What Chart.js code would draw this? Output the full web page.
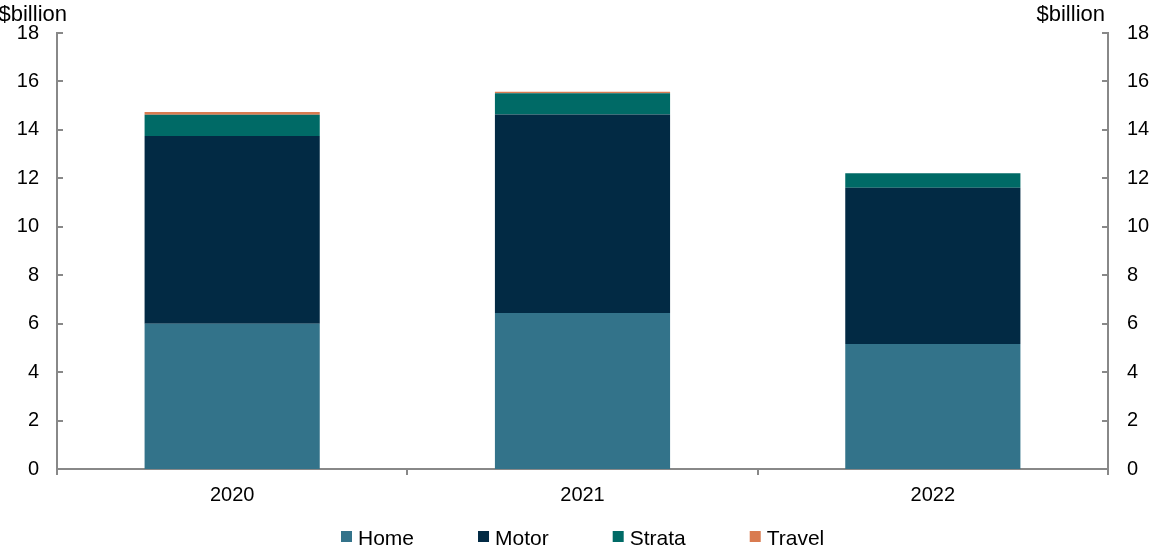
<!DOCTYPE html>
<html><head><meta charset="utf-8">
<script src="https://cdn.jsdelivr.net/npm/chart.js@4/dist/chart.umd.min.js"></script>
<style>html,body{margin:0;padding:0;background:#fff}#wrap{width:1156px;height:546px;position:relative}</style>
</head><body><div id="wrap"><canvas id="c" width="1156" height="546"></canvas></div>
<script>
const categories = ['2020', '2021', '2022'];
const home = [6.0, 6.44, 5.16];
const motor = [7.75, 8.2, 6.45];
const strata = [0.87, 0.87, 0.6];
const travel = [0.12, 0.06, 0.0];
const yTicks = [0, 2, 4, 6, 8, 10, 12, 14, 16, 18];
const unitLabel = '$billion';

const FONT = 'Liberation Sans, Arial, sans-serif';
const AXIS = '#888888';

const decor = {
  id: 'decor',
  afterDraw(chart) {
    const ctx = chart.ctx;
    ctx.save();
    ctx.strokeStyle = AXIS; ctx.lineWidth = 2;
    ['y', 'y2'].forEach(id => {
      const s = chart.scales[id];
      const isLeft = id === 'y';
      const x = isLeft ? s.right : s.left;
      yTicks.forEach(v => {
        const py = Math.round(s.getPixelForValue(v));
        ctx.beginPath();
        ctx.moveTo(x, py); ctx.lineTo(isLeft ? x + 6 : x - 6, py);
        ctx.stroke();
      });
    });
    ctx.fillStyle = '#000'; ctx.font = '22px ' + FONT; ctx.textBaseline = 'alphabetic';
    ctx.textAlign = 'right'; ctx.fillText(unitLabel, 67, 21);
    ctx.fillText(unitLabel, 1105, 21);

    // legend
    ctx.font = '21px ' + FONT;
    const box = 11, gapText = 6, gapItem = 64;
    const items = chart.data.datasets.map(d => ({ label: d.label, color: d.backgroundColor, w: ctx.measureText(d.label).width }));
    let total = 0;
    items.forEach((it, i) => { total += box + gapText + it.w + (i < items.length - 1 ? gapItem : 0); });
    const ca = chart.chartArea;
    let x = Math.round((ca.left + ca.right) / 2 - total / 2);
    ctx.textAlign = 'left';
    items.forEach(it => {
      ctx.fillStyle = it.color;
      ctx.fillRect(x, 531, box, box);
      ctx.fillStyle = '#000';
      ctx.fillText(it.label, x + box + gapText, 545);
      x += box + gapText + it.w + gapItem;
    });
    ctx.restore();
  }
};

new Chart(document.getElementById('c'), {
  type: 'bar',
  data: {
    labels: categories,
    datasets: [
      { label: 'Home', data: home, backgroundColor: '#33738A' },
      { label: 'Motor', data: motor, backgroundColor: '#022A44' },
      { label: 'Strata', data: strata, backgroundColor: '#006A66' },
      { label: 'Travel', data: travel, backgroundColor: '#D97B50' }
    ]
  },
  options: {
    responsive: false, animation: false,
    layout: { padding: { top: 33, left: 0, right: 0, bottom: 0 } },
    datasets: { bar: { categoryPercentage: 1, barPercentage: 0.5 } },
    plugins: {
      tooltip: { enabled: false },
      legend: { display: false }
    },
    scales: {
      x: {
        stacked: true,
        grid: { display: true, drawOnChartArea: false, drawTicks: true, tickLength: 6, color: AXIS, lineWidth: 2, offset: true },
        border: { display: true, color: AXIS, width: 2 },
        ticks: { font: { family: FONT, size: 20 }, color: '#000', padding: 8 },
        afterFit(s) { s.height = 77; }
      },
      y: {
        stacked: true, position: 'left', min: 0, max: 18,
        grid: { display: false, drawTicks: false },
        border: { display: true, color: AXIS, width: 2 },
        ticks: { stepSize: 2, font: { family: FONT, size: 20 }, color: '#000', padding: 18 },
        afterFit(s) { s.width = 57; }
      },
      y2: {
        position: 'right', min: 0, max: 18,
        grid: { display: false, drawTicks: false },
        border: { display: true, color: AXIS, width: 2 },
        ticks: { stepSize: 2, font: { family: FONT, size: 20 }, color: '#000', padding: 19 },
        afterFit(s) { s.width = 48; }
      }
    }
  },
  plugins: [decor]
});
</script></body></html>
